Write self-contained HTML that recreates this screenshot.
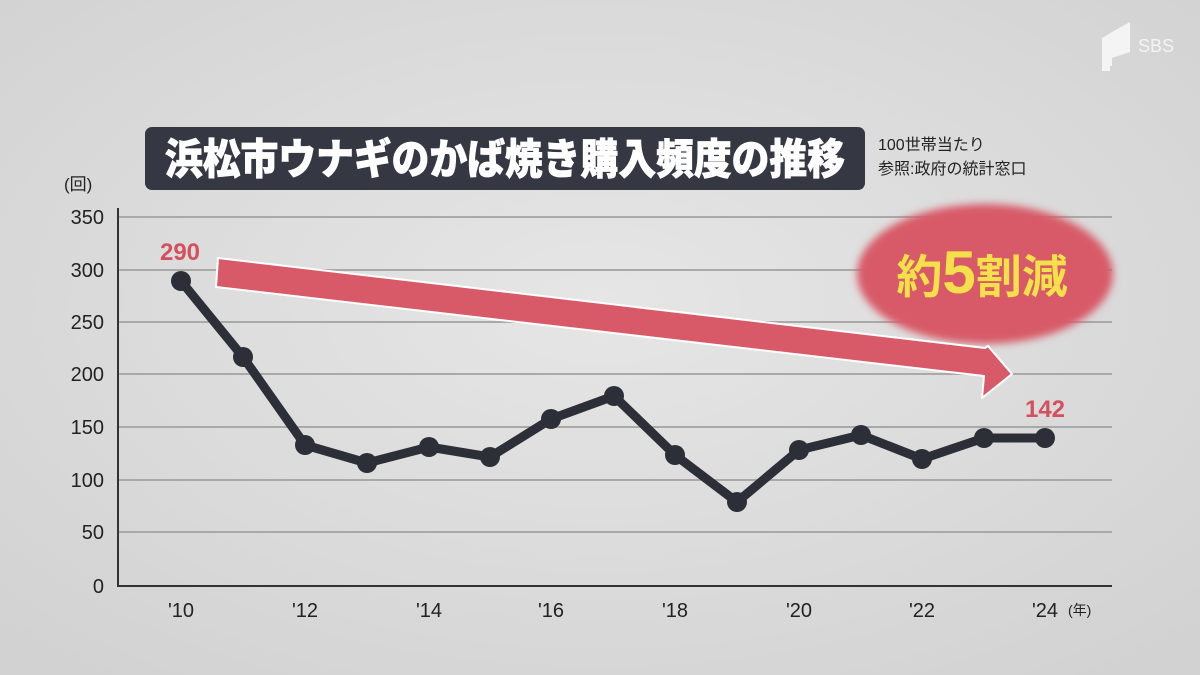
<!DOCTYPE html>
<html><head><meta charset="utf-8"><style>
html,body{margin:0;padding:0;}
body{width:1200px;height:675px;overflow:hidden;background:#dedede;}
svg{display:block;}
text{font-family:"Liberation Sans","Noto Sans CJK JP",sans-serif;}
</style></head><body>
<svg width="1200" height="675" viewBox="0 0 1200 675">
<defs>
<radialGradient id="bg" cx="50%" cy="45%" r="70%"><stop offset="0" stop-color="#e6e6e6"/><stop offset="1" stop-color="#d2d2d2"/></radialGradient>
<filter id="bl" x="-20%" y="-20%" width="140%" height="140%"><feGaussianBlur stdDeviation="4"/></filter>
</defs>
<rect width="1200" height="675" fill="url(#bg)"/>
<path d="M1102 38 L1112 32 L1130 22 L1130 52 L1112 58 L1112 66 L1102 66 Z" fill="#f4f4f4"/>
<rect x="1102" y="64" width="8" height="7" fill="#f4f4f4"/>
<text x="1138" y="52" font-size="18" fill="#f4f4f4">SBS</text>
<rect x="145" y="127" width="720" height="63" rx="7" fill="#353842"/>
<text x="505" y="174" font-size="42" font-weight="900" fill="#fff" text-anchor="middle" textLength="680" lengthAdjust="spacingAndGlyphs" stroke="#fff" stroke-width="0.8">浜松市ウナギのかば焼き購入頻度の推移</text>
<text x="878" y="150" font-size="16" fill="#222">100世帯当たり</text>
<text x="878" y="174" font-size="16" fill="#222">参照:政府の統計窓口</text>
<text x="64" y="190" font-size="17" fill="#222">(回)</text>
<g stroke="#a9a9a9" stroke-width="2">
<line x1="118" y1="217" x2="1112" y2="217"/><line x1="118" y1="270" x2="1112" y2="270"/>
<line x1="118" y1="322" x2="1112" y2="322"/><line x1="118" y1="374" x2="1112" y2="374"/>
<line x1="118" y1="427" x2="1112" y2="427"/><line x1="118" y1="480" x2="1112" y2="480"/>
<line x1="118" y1="532" x2="1112" y2="532"/>
</g>
<line x1="118" y1="208" x2="118" y2="587" stroke="#333" stroke-width="2"/>
<line x1="118" y1="586" x2="1112" y2="586" stroke="#333" stroke-width="2"/>
<g font-size="20" fill="#222" text-anchor="end">
<text x="104" y="224">350</text><text x="104" y="277">300</text><text x="104" y="329">250</text>
<text x="104" y="381">200</text><text x="104" y="434">150</text><text x="104" y="487">100</text>
<text x="104" y="539">50</text><text x="104" y="593">0</text>
</g>
<g font-size="20" fill="#222" text-anchor="middle">
<text x="181" y="617">'10</text><text x="305" y="617">'12</text><text x="429" y="617">'14</text>
<text x="551" y="617">'16</text><text x="675" y="617">'18</text><text x="799" y="617">'20</text>
<text x="922" y="617">'22</text><text x="1045" y="617">'24</text>
</g>
<text x="1068" y="615" font-size="14" fill="#222">(年)</text>
<ellipse cx="985" cy="274" rx="128" ry="70" fill="#d85a68" filter="url(#bl)"/>
<text x="982" y="293" font-size="46" font-weight="bold" fill="#f3e04a" text-anchor="middle"><tspan>約</tspan><tspan font-size="60">5</tspan><tspan>割減</tspan></text>
<polygon points="218,258 985,348 988,346 1012,374 982,398 984,376 216,287" fill="#d85a68" stroke="#fff" stroke-width="2" stroke-linejoin="round"/>
<polyline points="181,281 243,357 305,445 367,463 429,447 490,457 551,419 614,396 675,455 737,502 799,450 861,435 922,459 984,438 1045,438" fill="none" stroke="#2d2f38" stroke-width="9" stroke-linejoin="round"/>
<g fill="#2d2f38">
<circle cx="181" cy="281" r="10"/><circle cx="243" cy="357" r="10"/><circle cx="305" cy="445" r="10"/>
<circle cx="367" cy="463" r="10"/><circle cx="429" cy="447" r="10"/><circle cx="490" cy="457" r="10"/>
<circle cx="551" cy="419" r="10"/><circle cx="614" cy="396" r="10"/><circle cx="675" cy="455" r="10"/>
<circle cx="737" cy="502" r="10"/><circle cx="799" cy="450" r="10"/><circle cx="861" cy="435" r="10"/>
<circle cx="922" cy="459" r="10"/><circle cx="984" cy="438" r="10"/><circle cx="1045" cy="438" r="10"/>
</g>
<text x="180" y="260" font-size="24" font-weight="bold" fill="#d4505f" text-anchor="middle">290</text>
<text x="1045" y="417" font-size="24" font-weight="bold" fill="#d4505f" text-anchor="middle">142</text>
</svg>
</body></html>
